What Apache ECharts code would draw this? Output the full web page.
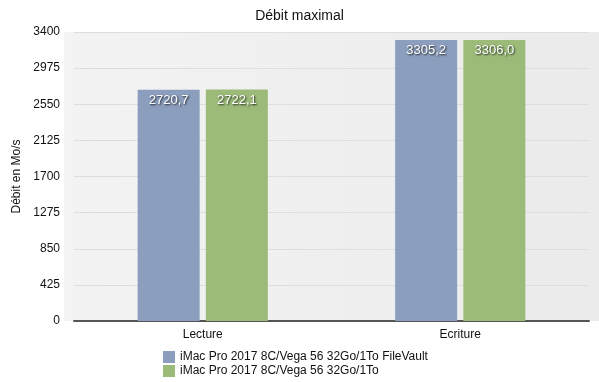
<!DOCTYPE html>
<html><head><meta charset="utf-8">
<script src="https://cdn.jsdelivr.net/npm/echarts@6/dist/echarts.min.js"></script>
<style>html,body{margin:0;padding:0;background:#fff}#c{width:599px;height:382px}</style>
</head><body><div id="c"></div>
<script>
const categories = ['Lecture', 'Ecriture'];
const seriesNames = ['iMac Pro 2017 8C/Vega 56 32Go/1To FileVault', 'iMac Pro 2017 8C/Vega 56 32Go/1To'];
const fileVault = [2720.7, 3305.2];
const plain = [2722.1, 3306.0];
const colors = ['#8c9ebd', '#9cbb79'];

const chart = echarts.init(document.getElementById('c'));
const fmt = v => v.toFixed(1).replace('.', ',');
const lbl = {
  show: true, position: 'insideTop', distance: 4,
  color: '#fff', fontSize: 13, fontFamily: 'Liberation Sans, Arial, sans-serif',
  textShadowColor: 'rgba(0,0,0,0.85)', textShadowBlur: 2, textShadowOffsetX: 1, textShadowOffsetY: 1,
  formatter: p => fmt(p.value)
};
chart.setOption({
  animation: false,
  title: { text: 'Débit maximal', left: 'center', top: 4,
    textStyle: { fontSize: 14, fontWeight: 'normal', color: '#111', fontFamily: 'Liberation Sans, Arial, sans-serif' } },
  graphic: [{ type: 'rect', z: -1, shape: { x: 64, y: 32, width: 535, height: 289 },
    style: { fill: new echarts.graphic.LinearGradient(0, 0, 1, 0, [{offset:0,color:'#f3f3f3'},{offset:1,color:'#ebebeb'}]) } }],
  grid: { left: 74, right: 10, top: 32, bottom: 61 },
  legend: {
    orient: 'vertical', left: 158, top: 346, itemWidth: 12, itemHeight: 12, itemGap: 2,
    icon: 'rect',
    textStyle: { fontSize: 12, color: '#111', fontFamily: 'Liberation Sans, Arial, sans-serif' },
    data: seriesNames
  },
  xAxis: {
    type: 'category', data: categories,
    axisLine: { lineStyle: { color: '#555', width: 2 } },
    axisTick: { show: false },
    axisLabel: { fontSize: 12, color: '#111', margin: 8, fontFamily: 'Liberation Sans, Arial, sans-serif' }
  },
  yAxis: {
    type: 'value', min: 0, max: 3400, interval: 425,
    name: 'Débit en Mo/s', nameLocation: 'middle', nameGap: 43, nameRotate: 90,
    nameTextStyle: { fontSize: 12, color: '#111', fontFamily: 'Liberation Sans, Arial, sans-serif' },
    axisLine: { show: false }, axisTick: { show: false },
    axisLabel: { fontSize: 12, color: '#111', margin: 14, formatter: v => String(v), fontFamily: 'Liberation Sans, Arial, sans-serif' },
    splitLine: { lineStyle: { color: '#dedede', width: 1 } }
  },
  series: [
    { name: seriesNames[0], type: 'bar', data: fileVault, barWidth: 62, barGap: '10%',
      itemStyle: { color: colors[0] }, label: lbl },
    { name: seriesNames[1], type: 'bar', data: plain, barWidth: 62,
      itemStyle: { color: colors[1] }, label: lbl }
  ]
});
</script></body></html>
